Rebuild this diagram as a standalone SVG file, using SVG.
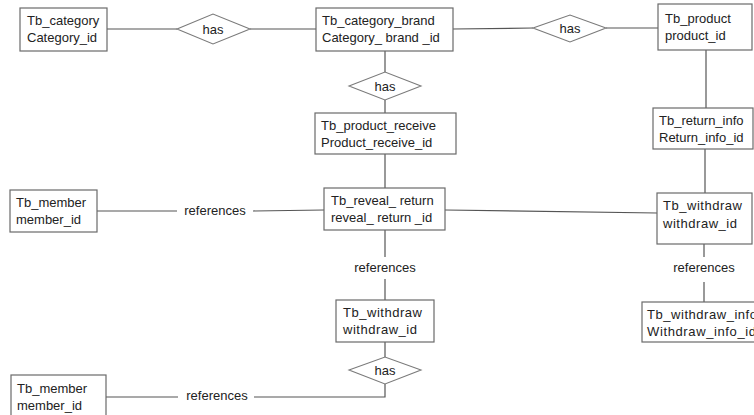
<svg xmlns="http://www.w3.org/2000/svg" width="754" height="415" viewBox="0 0 754 415">
  <style>
    .box { fill: #ffffff; stroke: #6a6a6a; stroke-width: 1.2; }
    .rel { fill: #ffffff; stroke: #7a7a7a; stroke-width: 1.1; }
    .ln { fill: none; stroke: #555555; stroke-width: 1.2; }
    text { font-family: "Liberation Sans", Arial, sans-serif; font-size: 13px; fill: #222222; }
    .c { text-anchor: middle; }
  </style>
  <rect width="754" height="415" fill="#ffffff"/>

  <!-- connectors -->
  <g id="connectors">
    <path class="ln" d="M107,29 H177"/>
    <path class="ln" d="M250,29 H316"/>
    <path class="ln" d="M453,29 L533,28"/>
    <path class="ln" d="M606,28 H658"/>
    <path class="ln" d="M385,51 V72"/>
    <path class="ln" d="M385,100 V113"/>
    <path class="ln" d="M385,154 V188"/>
    <path class="ln" d="M706,50 V108"/>
    <path class="ln" d="M705,149 V193"/>
    <path class="ln" d="M97,211 H177"/>
    <path class="ln" d="M253,211 L324,210"/>
    <path class="ln" d="M445,210 L657,213"/>
    <path class="ln" d="M385,230 V257"/>
    <path class="ln" d="M385,279 V300"/>
    <path class="ln" d="M704,244 V257"/>
    <path class="ln" d="M704,282 V302"/>
    <path class="ln" d="M385,342 V357"/>
    <path class="ln" d="M385,384 V397 H254"/>
    <path class="ln" d="M178,397 H106"/>
    <text class="c" x="215" y="215">references</text>
    <text class="c" x="385" y="272">references</text>
    <text class="c" x="704" y="272">references</text>
    <text class="c" x="217" y="400">references</text>
  </g>

  <!-- relationships -->
  <g id="rel_has_category">
    <polygon class="rel" points="177,29 213,14 250,29 213,44"/>
    <text class="c" x="213" y="34">has</text>
  </g>
  <g id="rel_has_brand_receive">
    <polygon class="rel" points="349,86 385,72 421,86 385,100"/>
    <text class="c" x="385" y="91">has</text>
  </g>
  <g id="rel_has_product">
    <polygon class="rel" points="533,28 570,15 606,28 570,42"/>
    <text class="c" x="570" y="33">has</text>
  </g>
  <g id="rel_has_withdraw">
    <polygon class="rel" points="349,370 385,357 421,370 385,384"/>
    <text class="c" x="385" y="375">has</text>
  </g>

  <!-- entities -->
  <g id="tb_category">
    <rect class="box" x="20" y="8" width="87" height="43"/>
    <text x="27" y="25">Tb_category</text>
    <text x="27" y="42">Category_id</text>
  </g>
  <g id="tb_category_brand">
    <rect class="box" x="316" y="8" width="137" height="43"/>
    <text x="322" y="25">Tb_category_brand</text>
    <text x="322" y="42">Category_ brand _id</text>
  </g>
  <g id="tb_product">
    <rect class="box" x="658" y="4" width="94" height="46"/>
    <text x="665" y="23">Tb_product</text>
    <text x="665" y="40">product_id</text>
  </g>
  <g id="tb_product_receive">
    <rect class="box" x="315" y="113" width="141" height="41"/>
    <text x="321" y="130">Tb_product_receive</text>
    <text x="321" y="147">Product_receive_id</text>
  </g>
  <g id="tb_return_info">
    <rect class="box" x="653" y="108" width="100" height="41"/>
    <text x="659" y="125">Tb_return_info</text>
    <text x="659" y="142">Return_info_id</text>
  </g>
  <g id="tb_member_top">
    <rect class="box" x="10" y="190" width="87" height="42"/>
    <text x="16" y="207">Tb_member</text>
    <text x="16" y="224">member_id</text>
  </g>
  <g id="tb_reveal_return">
    <rect class="box" x="324" y="188" width="121" height="42"/>
    <text x="331" y="205">Tb_reveal_ return</text>
    <text x="331" y="222">reveal_ return _id</text>
  </g>
  <g id="tb_withdraw_right">
    <rect class="box" x="657" y="193" width="95" height="51"/>
    <text x="663" y="210" textLength="79">Tb_withdraw</text>
    <text x="663" y="228" textLength="74">withdraw_id</text>
  </g>
  <g id="tb_withdraw_info">
    <rect class="box" x="642" y="302" width="130" height="40"/>
    <text x="647" y="319" textLength="110">Tb_withdraw_info</text>
    <text x="647" y="336" textLength="109">Withdraw_info_id</text>
  </g>
  <g id="tb_withdraw_center">
    <rect class="box" x="336" y="300" width="98" height="42"/>
    <text x="343" y="317" textLength="79">Tb_withdraw</text>
    <text x="343" y="334" textLength="74">withdraw_id</text>
  </g>
  <g id="tb_member_bottom">
    <rect class="box" x="11" y="375" width="95" height="50"/>
    <text x="17" y="393">Tb_member</text>
    <text x="17" y="410">member_id</text>
  </g>
</svg>
